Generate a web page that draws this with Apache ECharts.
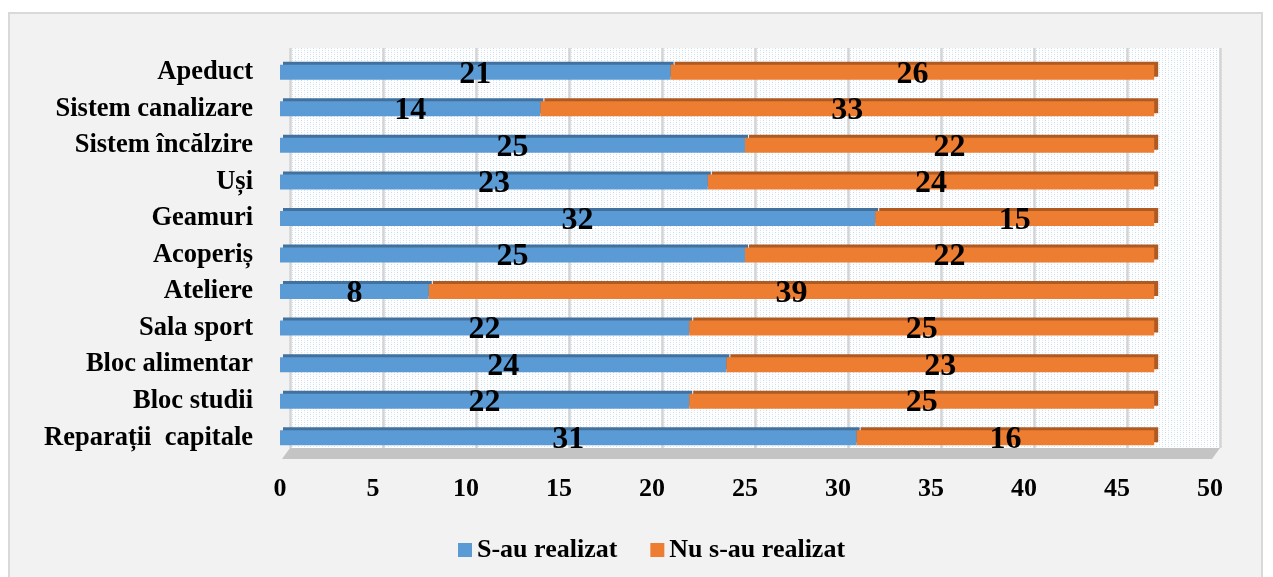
<!DOCTYPE html>
<html>
<head>
<meta charset="utf-8">
<script src="https://cdn.jsdelivr.net/npm/echarts@6/dist/echarts.min.js"></script>
<style>
html,body{margin:0;padding:0;background:#fff;}
#box{position:absolute;left:8px;top:12px;width:1255px;height:600px;background:#f2f2f2;border:2px solid #d9d9d9;box-sizing:border-box;}
#chart{position:absolute;left:0;top:0;width:1273px;height:577px;}
</style>
</head>
<body>
<div id="box"></div>
<div id="chart"></div>
<script>
const categories = ['Apeduct','Sistem canalizare','Sistem încălzire','Uși','Geamuri','Acoperiș','Ateliere','Sala sport','Bloc alimentar','Bloc studii','Reparații  capitale'];
const realizat = [21,14,25,23,32,25,8,22,24,22,31];
const nerealizat = [26,33,22,24,15,22,39,25,23,25,16];
const seriesNames = ['S-au realizat','Nu s-au realizat'];
const xTicks = {min:0, max:50, interval:5};

// dotted wall pattern
const pc = document.createElement('canvas');
pc.width = 6; pc.height = 4;
const px = pc.getContext('2d');
px.fillStyle = '#ffffff'; px.fillRect(0,0,6,4);
px.fillStyle = '#c9dcf0'; px.fillRect(1,0,1,1); px.fillRect(4,2,1,1);
px.fillStyle = '#e3edf8'; px.fillRect(1,2,1,1); px.fillRect(4,0,1,1);
const wallPattern = {image: pc, repeat: 'repeat'};

const font = 'Liberation Serif, Times New Roman, serif';
const chart = echarts.init(document.getElementById('chart'), null, {renderer:'canvas'});
chart.setOption({
  backgroundColor: 'transparent',
  animation: false,
  textStyle: {fontFamily: font},
  legend: {
    left: 453, top: 532,
    itemWidth: 14, itemHeight: 14, itemGap: 33,
    icon: 'rect',
    textStyle: {fontSize: 26, fontWeight: 'bold', color: '#000', fontFamily: font},
    data: seriesNames
  },
  grid: [
    {left: 280, width: 930, top: 54, height: 402, containLabel: false},
    {left: 290, width: 930, top: 48, height: 400, show: true, backgroundColor: wallPattern, borderWidth: 0, z: 0}
  ],
  graphic: [{
    type: 'polygon', z: 0, silent: true,
    shape: {points: [[282,459],[290,448],[1220,448],[1212,459]]},
    style: {fill: '#c4c4c4'}
  }],
  xAxis: [
    {type: 'value', gridIndex: 0, min: xTicks.min, max: xTicks.max, interval: xTicks.interval,
     axisLine: {show: false}, axisTick: {show: false}, splitLine: {show: false},
     axisLabel: {fontSize: 26, fontWeight: 'bold', color: '#000', margin: 20, fontFamily: font}},
    {type: 'value', gridIndex: 1, min: xTicks.min, max: xTicks.max, interval: xTicks.interval,
     axisLine: {show: false}, axisTick: {show: false}, axisLabel: {show: false},
     splitLine: {show: true, lineStyle: {color: '#d4d4d4', width: 2.5}}}
  ],
  yAxis: [
    {type: 'category', gridIndex: 0, data: categories, inverse: true,
     axisLine: {show: false}, axisTick: {show: false},
     axisLabel: {fontSize: 26.5, fontWeight: 'bold', color: '#000', margin: 27, fontFamily: font}},
    {type: 'category', gridIndex: 1, data: categories, inverse: true, show: false}
  ],
  series: [
    {name: seriesNames[0], type: 'bar', stack: 's', xAxisIndex: 0, yAxisIndex: 0, barWidth: 15, z: 2,
     data: realizat,
     itemStyle: {color: '#5b9bd5', shadowColor: '#41719c', shadowOffsetX: 3, shadowOffsetY: -3, shadowBlur: 0},
     label: {show: true, position: 'inside', offset: [0, 2], fontSize: 32, fontWeight: 'bold', color: '#000', fontFamily: font}},
    {name: seriesNames[1], type: 'bar', stack: 's', xAxisIndex: 0, yAxisIndex: 0, barWidth: 15, z: 3,
     data: nerealizat,
     itemStyle: {color: '#ed7d31', shadowColor: '#ae5a21', shadowOffsetX: 4, shadowOffsetY: -3, shadowBlur: 0},
     label: {show: true, position: 'inside', offset: [0, 2], fontSize: 32, fontWeight: 'bold', color: '#000', fontFamily: font}}
  ]
});
</script>
</body>
</html>
